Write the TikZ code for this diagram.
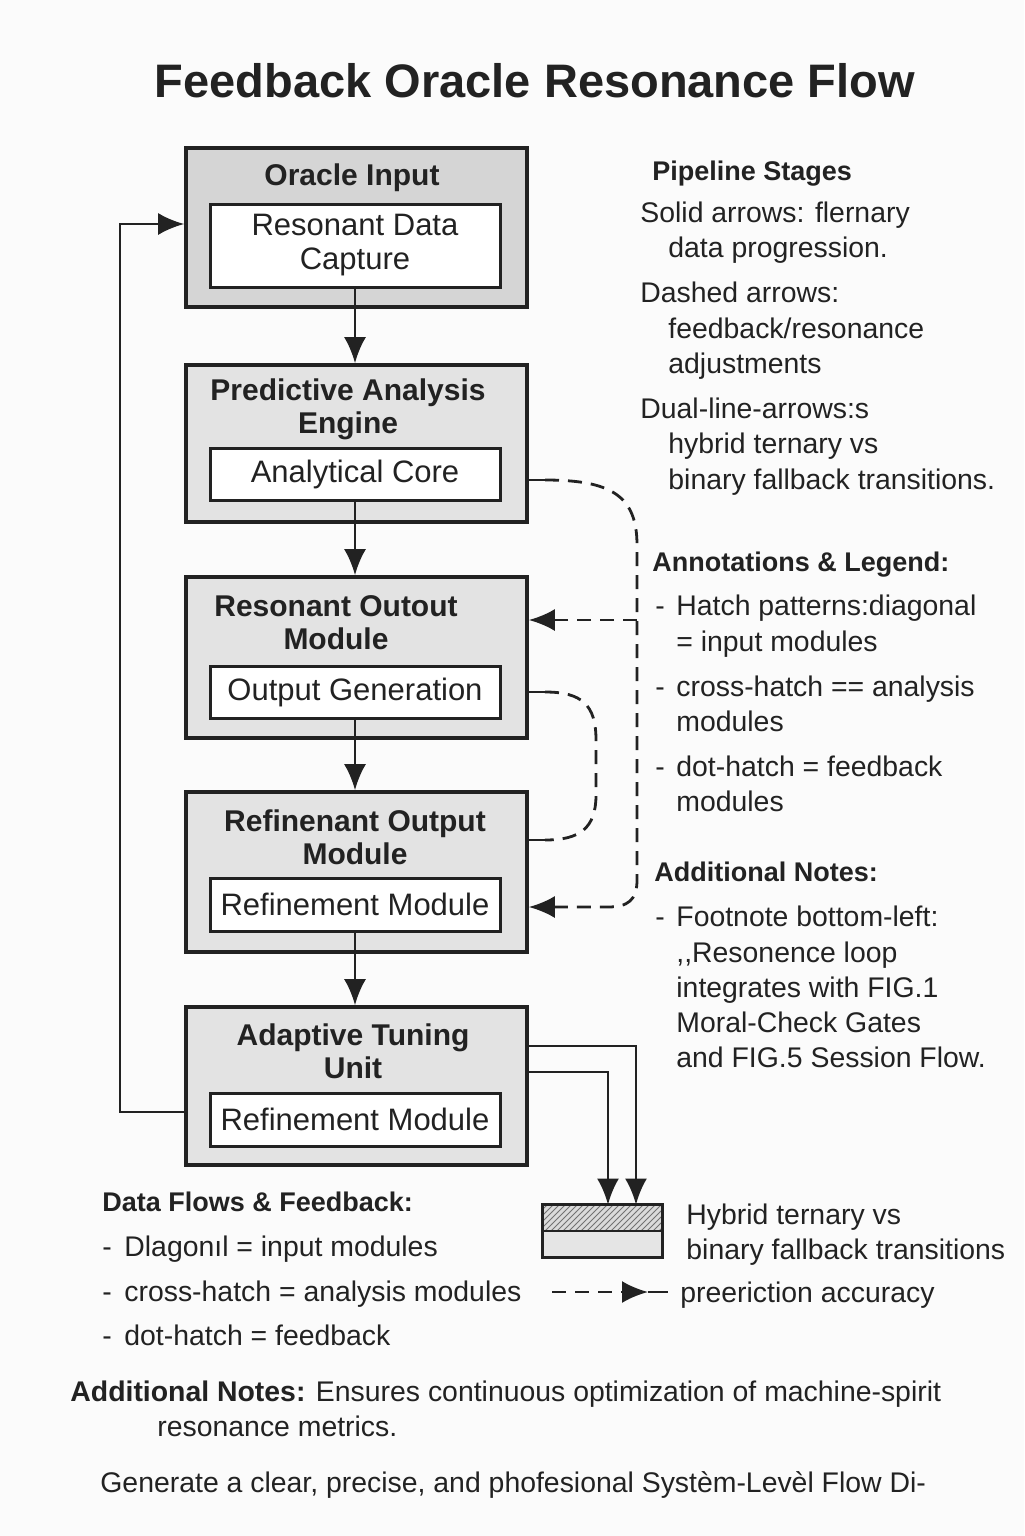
\documentclass[tikz,border=0pt]{standalone}
\usepackage{fontspec}
\setmainfont{Liberation Sans}
\usetikzlibrary{arrows.meta,patterns}
\definecolor{ink}{HTML}{222222}
\tikzset{
 outerbox/.style={draw=ink, line width=1.8pt, fill=gray!22, minimum width=170.5pt, inner sep=0pt},
 inbox/.style={draw=ink, line width=1.5pt, fill=white, minimum width=145pt, inner sep=0pt, font=\fontsize{15.5}{17}\selectfont, align=center, text=ink},
 btitle/.style={font=\bfseries\fontsize{15}{16.5}\selectfont, align=center, inner sep=0pt, text=ink},
 tip/.style={-{Latex[length=13pt,width=11pt]}},
 flow/.style={line width=1.4pt, draw=ink, tip},
 plainline/.style={line width=1.4pt, draw=ink},
 fb/.style={line width=1.4pt, draw=ink, dash pattern=on 7pt off 4.5pt},
 txt/.style={anchor=base west, inner sep=0pt, font=\fontsize{14.2}{17}\selectfont, text=ink},
 head/.style={anchor=base west, inner sep=0pt, font=\bfseries\fontsize{13.5}{16}\selectfont, text=ink},
}
\begin{document}
\begin{tikzpicture}[x=0.5pt,y=-0.5pt]
\useasboundingbox (0,0) rectangle (1024,1536);
\fill[gray!3] (0,0) rectangle (1024,1536);

% title
\node[font=\bfseries\fontsize{23.5}{28}\selectfont, text=ink, inner sep=0pt] (title) at (535,81) {Feedback Oracle Resonance Flow};

% boxes
\node[outerbox, minimum height=79.5pt, fill=gray!33] (B1) at (356.5,227.5) {};
\node[btitle] (T1) at (352,178) {Oracle Input};
\node[inbox, minimum height=41.5pt] (I1) at (355,245.5) {Resonant Data\\Capture};

\node[outerbox, minimum height=78.5pt] (B2) at (356.5,443.5) {};
\node[btitle] (T2) at (348,409) {Predictive Analysis\\Engine};
\node[inbox, minimum height=26pt] (I2) at (355,474) {Analytical Core};

\node[outerbox, minimum height=80.5pt] (B3) at (356.5,657.5) {};
\node[btitle] (T3) at (336,623) {Resonant Outout\\Module};
\node[inbox, minimum height=26pt] (I3) at (355,692) {Output Generation};

\node[outerbox, minimum height=80pt] (B4) at (356.5,872) {};
\node[btitle] (T4) at (355,837) {Refinenant Output\\Module};
\node[inbox, minimum height=26.5pt] (I4) at (355,904.5) {Refinement Module};

\node[outerbox, minimum height=79pt] (B5) at (356.5,1086) {};
\node[btitle] (T5) at (353,1051) {Adaptive Tuning\\Unit};
\node[inbox, minimum height=26.5pt] (I5) at (355,1119.5) {Refinement Module};

% main flow
\draw[flow] (I1.south) -- (I1.south |- B2.north);
\draw[flow] (I2.south) -- (I2.south |- B3.north);
\draw[flow] (I3.south) -- (I3.south |- B4.north);
\draw[flow] (I4.south) -- (I4.south |- B5.north);

% feedback loop left
\coordinate (L1) at (120,700);
\draw[flow] ([yshift=-13pt]B5.west) -| (L1) |- ([yshift=1.75pt]B1.west);

% dashed feedback 1
\coordinate (d1a) at (545,480);
\coordinate (br) at (637,620);
\draw[plainline] ([yshift=-18.25pt]B2.east) -- (d1a);
\draw[fb, tip] (d1a) .. controls (610,480) and (637,495) .. (637,545) -- (637,880) .. controls (637,900) and (628,907) .. (608,907) -- ([yshift=-17.5pt]B4.east);
\draw[fb, tip] (br) -- ([yshift=18.75pt]B3.east);

% dashed feedback 2
\coordinate (d2a) at (545,692);
\coordinate (d2b) at (545,840);
\draw[plainline] ([yshift=-17.25pt]B3.east) -- (d2a);
\draw[fb] (d2a) .. controls (582,692) and (596,705) .. (596,740) -- (596,795) .. controls (596,828) and (580,840) .. (d2b);
\draw[plainline] (d2b) -- ([yshift=16pt]B4.east);

% legend box
\node[minimum width=59.5pt, minimum height=26pt, inner sep=0pt] (LG) at (602.5,1231) {};
\fill[gray!28] (LG.north west) rectangle (LG.east);
\fill[pattern=north east lines, pattern color=black!55] (LG.north west) rectangle (LG.east);
\fill[gray!20] (LG.west) rectangle (LG.south east);
\draw[line width=1.5pt, draw=ink] (LG.north west) rectangle (LG.south east);
\draw[line width=1.2pt, draw=ink] (LG.west) -- (LG.east);

% dual arrows
\draw[flow] ([yshift=20pt]B5.east) -| ([xshift=16.75pt]LG.north);
\draw[flow] ([yshift=7pt]B5.east) -| ([xshift=2.75pt]LG.north);

\node[txt] (lg1) at (686,1224) {Hybrid ternary vs};
\node[txt] (lg2) at (686,1259) {binary fallback transitions};

% dashed legend arrow
\coordinate (la1) at (552,1292);
\coordinate (la2) at (648,1292);
\coordinate (la3) at (668,1292);
\draw[fb, tip] (la1) -- (la2);
\draw[plainline] (la2) -- (la3);
\node[txt] (lg3) at (680,1302) {preeriction accuracy};

% right column
\node[head] (h1) at (652,180) {Pipeline Stages};
\node[txt] (r1) at (640,222) {Solid arrows: flernary};
\node[txt] (r2) at (668,257) {data progression.};
\node[txt] (r3) at (640,302) {Dashed arrows:};
\node[txt] (r4) at (668,338) {feedback/resonance};
\node[txt] (r5) at (668,373) {adjustments};
\node[txt] (r6) at (640,418) {Dual-line-arrows:s};
\node[txt] (r7) at (668,453) {hybrid ternary vs};
\node[txt] (r8) at (668,489) {binary fallback transitions.};

\node[head] (h2) at (652,571) {Annotations \& Legend:};
\node[txt] (a0) at (655,615) {-};
\node[txt] (a1) at (676,615) {Hatch patterns:diagonal};
\node[txt] (a2) at (676,651) {= input modules};
\node[txt] (b0) at (655,696) {-};
\node[txt] (a3) at (676,696) {cross-hatch == analysis};
\node[txt] (a4) at (676,731) {modules};
\node[txt] (c0) at (655,776) {-};
\node[txt] (a5) at (676,776) {dot-hatch = feedback};
\node[txt] (a6) at (676,811) {modules};

\node[head] (h3) at (654,881) {Additional Notes:};
\node[txt] (n0) at (655,926) {-};
\node[txt] (n1) at (676,926) {Footnote bottom-left:};
\node[txt] (n2) at (676,962) {,{},Resonence loop};
\node[txt] (n3) at (676,997) {integrates with FIG.1};
\node[txt] (n4) at (676,1032) {Moral-Check Gates};
\node[txt] (n5) at (676,1067) {and FIG.5 Session Flow.};

% bottom left
\node[head] (h4) at (102,1211) {Data Flows \& Feedback:};
\node[txt] (e0) at (102,1256) {-};
\node[txt] (e1) at (124,1256) {Dlagonıl = input modules};
\node[txt] (f0) at (102,1301) {-};
\node[txt] (e2) at (124,1301) {cross-hatch = analysis modules};
\node[txt] (g0) at (102,1345) {-};
\node[txt] (e3) at (124,1345) {dot-hatch = feedback};

\node[txt] (m1) at (70,1401) {\textbf{Additional Notes:} Ensures continuous optimization of machine-spirit};
\node[txt] (m2) at (157,1436) {resonance metrics.};
\node[txt] (m3) at (100,1492) {Generate a clear, precise, and phofesional Systèm-Levèl Flow Di-};
\end{tikzpicture}
\end{document}
